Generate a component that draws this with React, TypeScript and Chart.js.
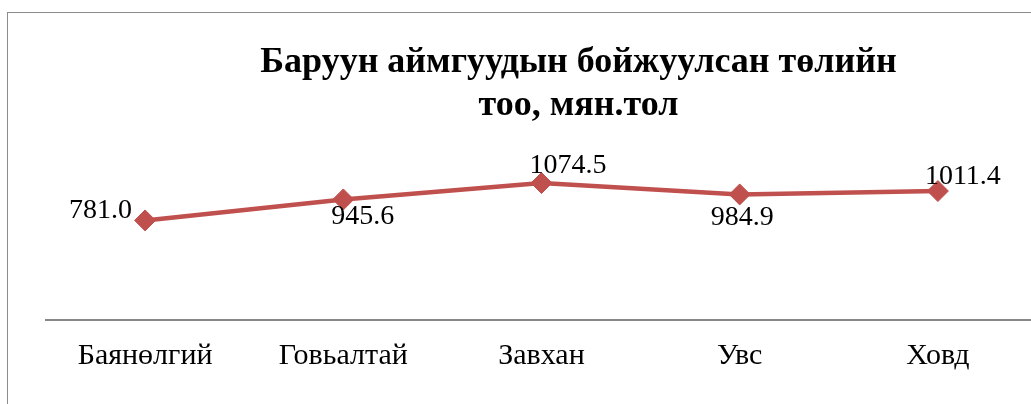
import React, { useEffect, useRef } from "react";
import { Chart, registerables } from "chart.js";

Chart.register(...registerables);

const TITLE_LINES = ["Баруун аймгуудын бойжуулсан төлийн", "тоо, мян.тол"];
const CATEGORIES = ["Баянөлгий", "Говьалтай", "Завхан", "Увс", "Ховд"];
const VALUES = [781.0, 945.6, 1074.5, 984.9, 1011.4];
const Y_MIN = 0;
const Y_MAX = 1200;

// label placement relative to each point: [dx, dy(baseline), align]
const LABEL_PLACEMENT: [number, number, CanvasTextAlign][] = [
  [-13, -2, "right"],
  [-12, 25, "left"],
  [-12, -10, "left"],
  [-29, 31, "left"],
  [-13, -7, "left"],
];

const SERIF = '"Liberation Serif", "Times New Roman", serif';
const LINE_COLOR = "#C0504D";

const titlePlugin = {
  id: "customTitle",
  afterDraw(chart: any) {
    const ctx = chart.ctx;
    ctx.save();
    ctx.font = `bold 36px ${SERIF}`;
    ctx.fillStyle = "#000";
    ctx.textAlign = "center";
    ctx.textBaseline = "alphabetic";
    ctx.fillText(TITLE_LINES[0], 570.5, 59);
    ctx.fillText(TITLE_LINES[1], 570.5, 102);
    ctx.restore();
  },
};

const labelPlugin = {
  id: "valueLabels",
  afterDatasetsDraw(chart: any) {
    const ctx = chart.ctx;
    const meta = chart.getDatasetMeta(0);
    ctx.save();
    ctx.font = `28px ${SERIF}`;
    ctx.fillStyle = "#000";
    ctx.textBaseline = "alphabetic";
    meta.data.forEach((el: any, i: number) => {
      const [dx, dy, align] = LABEL_PLACEMENT[i];
      ctx.textAlign = align;
      ctx.fillText(VALUES[i].toFixed(1), el.x + dx, el.y + dy);
    });
    ctx.restore();
  },
};

export default function App() {
  const canvasRef = useRef<HTMLCanvasElement | null>(null);

  useEffect(() => {
    document.body.style.overflow = "hidden";
    const canvas = canvasRef.current;
    if (!canvas) return;
    const chart = new Chart(canvas, {
      type: "line",
      data: {
        labels: CATEGORIES,
        datasets: [
          {
            data: VALUES,
            borderColor: LINE_COLOR,
            backgroundColor: LINE_COLOR,
            borderWidth: 4.5,
            pointStyle: "rectRot",
            pointRadius: 10.5,
            pointBorderWidth: 1,
            pointBackgroundColor: LINE_COLOR,
            pointBorderColor: LINE_COLOR,
            tension: 0,
            clip: false as any,
          },
        ],
      },
      options: {
        animation: false,
        responsive: false,
        maintainAspectRatio: false,
        layout: { padding: { top: 154, left: 38, right: 109, bottom: 59 } },
        plugins: {
          legend: { display: false },
          title: { display: false },
          tooltip: { enabled: false },
        },
        scales: {
          x: {
            offset: true,
            grid: { display: false, drawTicks: false },
            border: { display: true, color: "#878787", width: 2 },
            ticks: {
              padding: 18,
              color: "#000",
              font: { family: SERIF, size: 30 },
              maxRotation: 0,
              autoSkip: false,
            },
          },
          y: {
            display: false,
            min: Y_MIN,
            max: Y_MAX,
          },
        },
      },
      plugins: [labelPlugin, titlePlugin],
    });
    return () => chart.destroy();
  }, []);

  return (
    <div
      style={{
        position: "fixed",
        left: 7,
        top: 12,
        width: 1140,
        height: 440,
        border: "1px solid #8c8c8c",
        boxSizing: "border-box",
        background: "#fff",
      }}
    >
      <canvas ref={canvasRef} width={1138} height={438} style={{ display: "block" }} />
    </div>
  );
}
